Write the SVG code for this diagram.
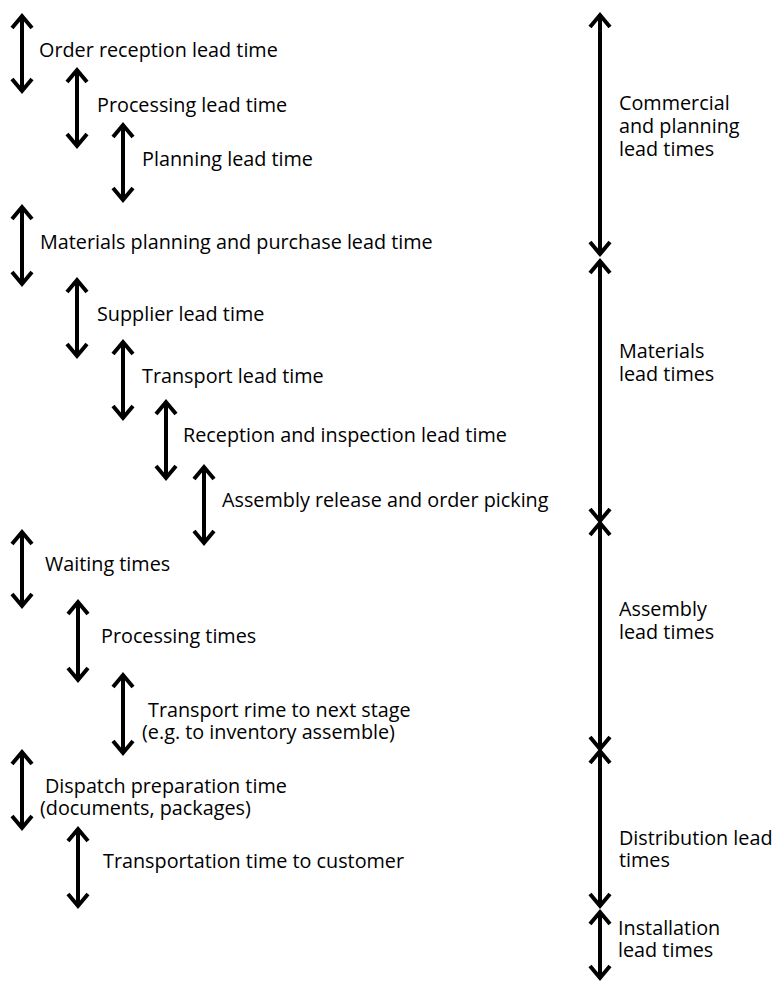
<svg xmlns="http://www.w3.org/2000/svg" width="776" height="983" viewBox="0 0 776 983">
<style>
.a{stroke:#000;stroke-width:4;fill:none;marker-start:url(#chev);marker-end:url(#chev)}
text{font-family:"Open Sans","Liberation Sans",sans-serif;font-size:19.8px;fill:#000}
</style>
<defs>
<marker id="chev" markerUnits="userSpaceOnUse" orient="auto-start-reverse" refX="0" refY="0" markerWidth="30" markerHeight="30" viewBox="-20 -15 30 30" overflow="visible">
<path d="M-12,-10 L0,0 L-12,10" stroke="#000" stroke-width="4" fill="none" stroke-linejoin="miter"/>
</marker>
</defs>
<rect width="776" height="983" fill="#fff"/>
<g id="connectors">
<line class="a" x1="22" y1="16" x2="22" y2="91"/>
<line class="a" x1="77" y1="70" x2="77" y2="146"/>
<line class="a" x1="123" y1="125" x2="123" y2="200"/>
<line class="a" x1="22" y1="207" x2="22" y2="284"/>
<line class="a" x1="77" y1="280" x2="77" y2="356"/>
<line class="a" x1="123" y1="342" x2="123" y2="418"/>
<line class="a" x1="166" y1="402" x2="166" y2="478"/>
<line class="a" x1="204" y1="467" x2="204" y2="543"/>
<line class="a" x1="22" y1="532" x2="22" y2="606"/>
<line class="a" x1="78" y1="602" x2="78" y2="680"/>
<line class="a" x1="123" y1="675" x2="123" y2="753"/>
<line class="a" x1="22" y1="752" x2="22" y2="828"/>
<line class="a" x1="78" y1="829" x2="78" y2="906"/>
<line class="a" x1="600" y1="15" x2="600" y2="254"/>
<line class="a" x1="600" y1="261" x2="600" y2="521"/>
<line class="a" x1="600" y1="523" x2="600" y2="749"/>
<line class="a" x1="600" y1="751" x2="600" y2="906"/>
<line class="a" x1="600" y1="912" x2="600" y2="978"/>
</g>
<g id="n1"><text x="39" y="57">Order reception lead time</text></g>
<g id="n2"><text x="97" y="112">Processing lead time</text></g>
<g id="n3"><text x="142" y="166">Planning lead time</text></g>
<g id="n4"><text x="40" y="249">Materials planning and purchase lead time</text></g>
<g id="n5"><text x="97" y="321">Supplier lead time</text></g>
<g id="n6"><text x="142" y="383">Transport lead time</text></g>
<g id="n7"><text x="183" y="442">Reception and inspection lead time</text></g>
<g id="n8"><text x="222" y="507">Assembly release and order picking</text></g>
<g id="n9"><text x="45" y="571">Waiting times</text></g>
<g id="n10"><text x="101" y="643">Processing times</text></g>
<g id="n11"><text x="148" y="717">Transport rime to next stage</text><text x="142" y="739">(e.g. to inventory assemble)</text></g>
<g id="n12"><text x="45" y="793">Dispatch preparation time</text><text x="40" y="815">(documents, packages)</text></g>
<g id="n13"><text x="103" y="868">Transportation time to customer</text></g>
<g id="r1"><text x="619" y="110">Commercial</text><text x="619" y="133">and planning</text><text x="619" y="156">lead times</text></g>
<g id="r2"><text x="619" y="358">Materials</text><text x="619" y="381">lead times</text></g>
<g id="r3"><text x="619" y="616">Assembly</text><text x="619" y="639">lead times</text></g>
<g id="r4"><text x="619" y="845">Distribution lead</text><text x="619" y="867">times</text></g>
<g id="r5"><text x="618" y="935">Installation</text><text x="618" y="957">lead times</text></g>
</svg>
